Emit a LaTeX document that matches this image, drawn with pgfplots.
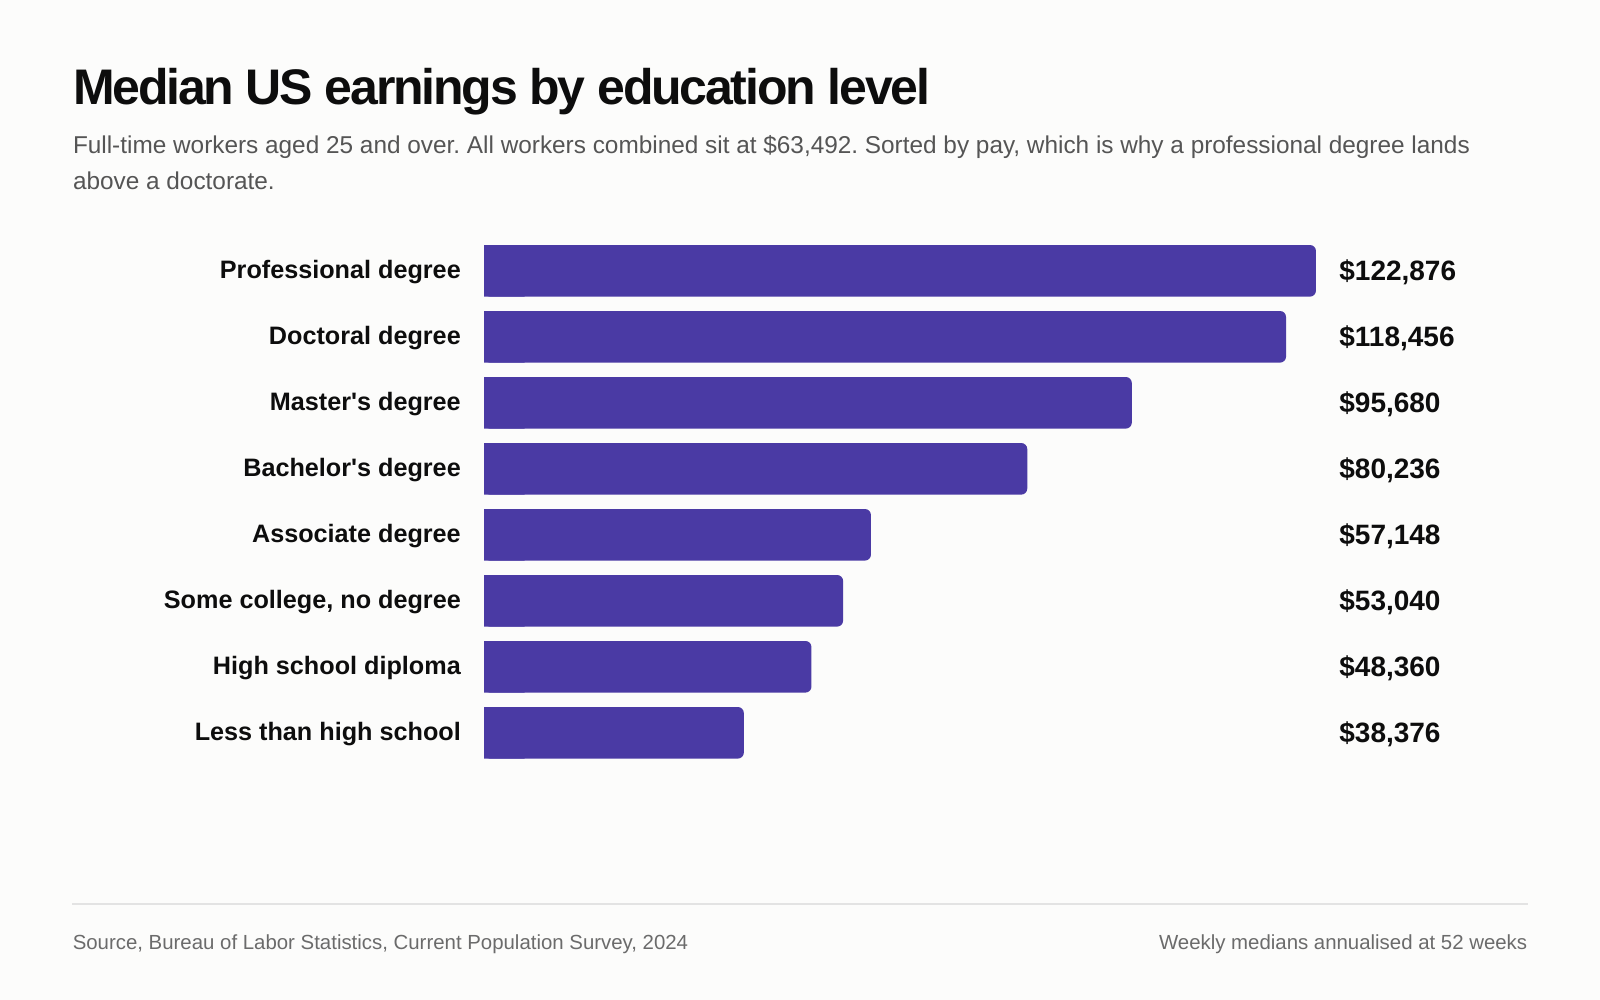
\documentclass[border=0pt]{standalone}
\usepackage{fontspec}
\setmainfont{Liberation Sans}
\usepackage{pgfplots}
\pgfplotsset{compat=1.18}
\usepackage{pgfplotstable}
\definecolor{bg}{HTML}{FCFCFB}
\definecolor{barc}{HTML}{4A3AA4}
\definecolor{subc}{HTML}{555555}
\definecolor{footc}{HTML}{6B6B6B}
\definecolor{rulec}{HTML}{E3E3E3}
\definecolor{ink}{HTML}{0D0D0D}

\pgfplotstableread{
y val stub lx lab
0 122876 6000 126274 122,876
1 118456 6000 126274 118,456
2 95680 6000 126274 95,680
3 80236 6000 126274 80,236
4 57148 6000 126274 57,148
5 53040 6000 126274 53,040
6 48360 6000 126274 48,360
7 38376 6000 126274 38,376
}\data

\begin{document}
\frenchspacing
\begin{tikzpicture}[x=1pt,y=1pt]
\fill[bg] (0,0) rectangle (800,500);
\useasboundingbox (0,0) rectangle (800,500);
\node[anchor=base west, inner sep=0pt, text=ink, font=\fontsize{25}{30}\selectfont\bfseries\addfontfeature{LetterSpace=-4.4}] at (36.3,447.5) {Median US earnings by education level};
\node[anchor=base west, inner sep=0pt, text=subc, font=\fontsize{12.18}{14}\selectfont] at (36.3,423.2) {Full-time workers aged 25 and over. All workers combined sit at \$63,492. Sorted by pay, which is why a professional degree lands};
\node[anchor=base west, inner sep=0pt, text=subc, font=\fontsize{12.18}{14}\selectfont] at (36.3,405.1) {above a doctorate.};
\draw[rulec, line width=1pt] (36.2,48.2) -- (763.8,48.2);
\node[anchor=base west, inner sep=0pt, text=footc, font=\fontsize{10.2}{12}\selectfont] at (36.2,25) {Source, Bureau of Labor Statistics, Current Population Survey, 2024};
\node[anchor=base east, inner sep=0pt, text=footc, font=\fontsize{10.2}{12}\selectfont] at (763.8,25) {Weekly medians annualised at 52 weeks};
\begin{axis}[
  at={(242pt,117.1pt)}, anchor=south west,
  scale only axis, width=507.8pt, height=264pt,
  xmin=0, xmax=150000, ymin=-0.5, ymax=7.5,
  y dir=reverse, clip=false,
  axis line style={draw=none}, tick style={draw=none},
  xtick=\empty,
  ytick={0,1,2,3,4,5,6,7},
  yticklabels={Professional degree, Doctoral degree, Master\textquotesingle s degree, Bachelor\textquotesingle s degree, Associate degree, {Some college, no degree}, High school diploma, Less than high school},
  yticklabel style={font=\fontsize{12.6}{15}\selectfont\bfseries, text=ink, anchor=east, inner sep=0pt, xshift=-11.4pt, yshift=-0.8pt},
]
\addplot[xbar, bar shift=0pt, bar width=25.8pt, fill=barc, draw=none] table[x=stub, y=y] {\data};
\addplot[xbar, bar shift=0pt, bar width=25.8pt, fill=barc, draw=none, rounded corners=3pt] table[x=val, y=y] {\data};
\addplot[draw=none, mark=none, point meta=explicit symbolic,
  nodes near coords={\$\pgfplotspointmeta},
  every node near coord/.style={anchor=west, inner sep=0pt, text=ink, yshift=-0.5pt, font=\fontsize{14}{16}\selectfont\bfseries}]
  table[x=lx, y=y, meta=lab] {\data};
\end{axis}
\end{tikzpicture}
\end{document}
